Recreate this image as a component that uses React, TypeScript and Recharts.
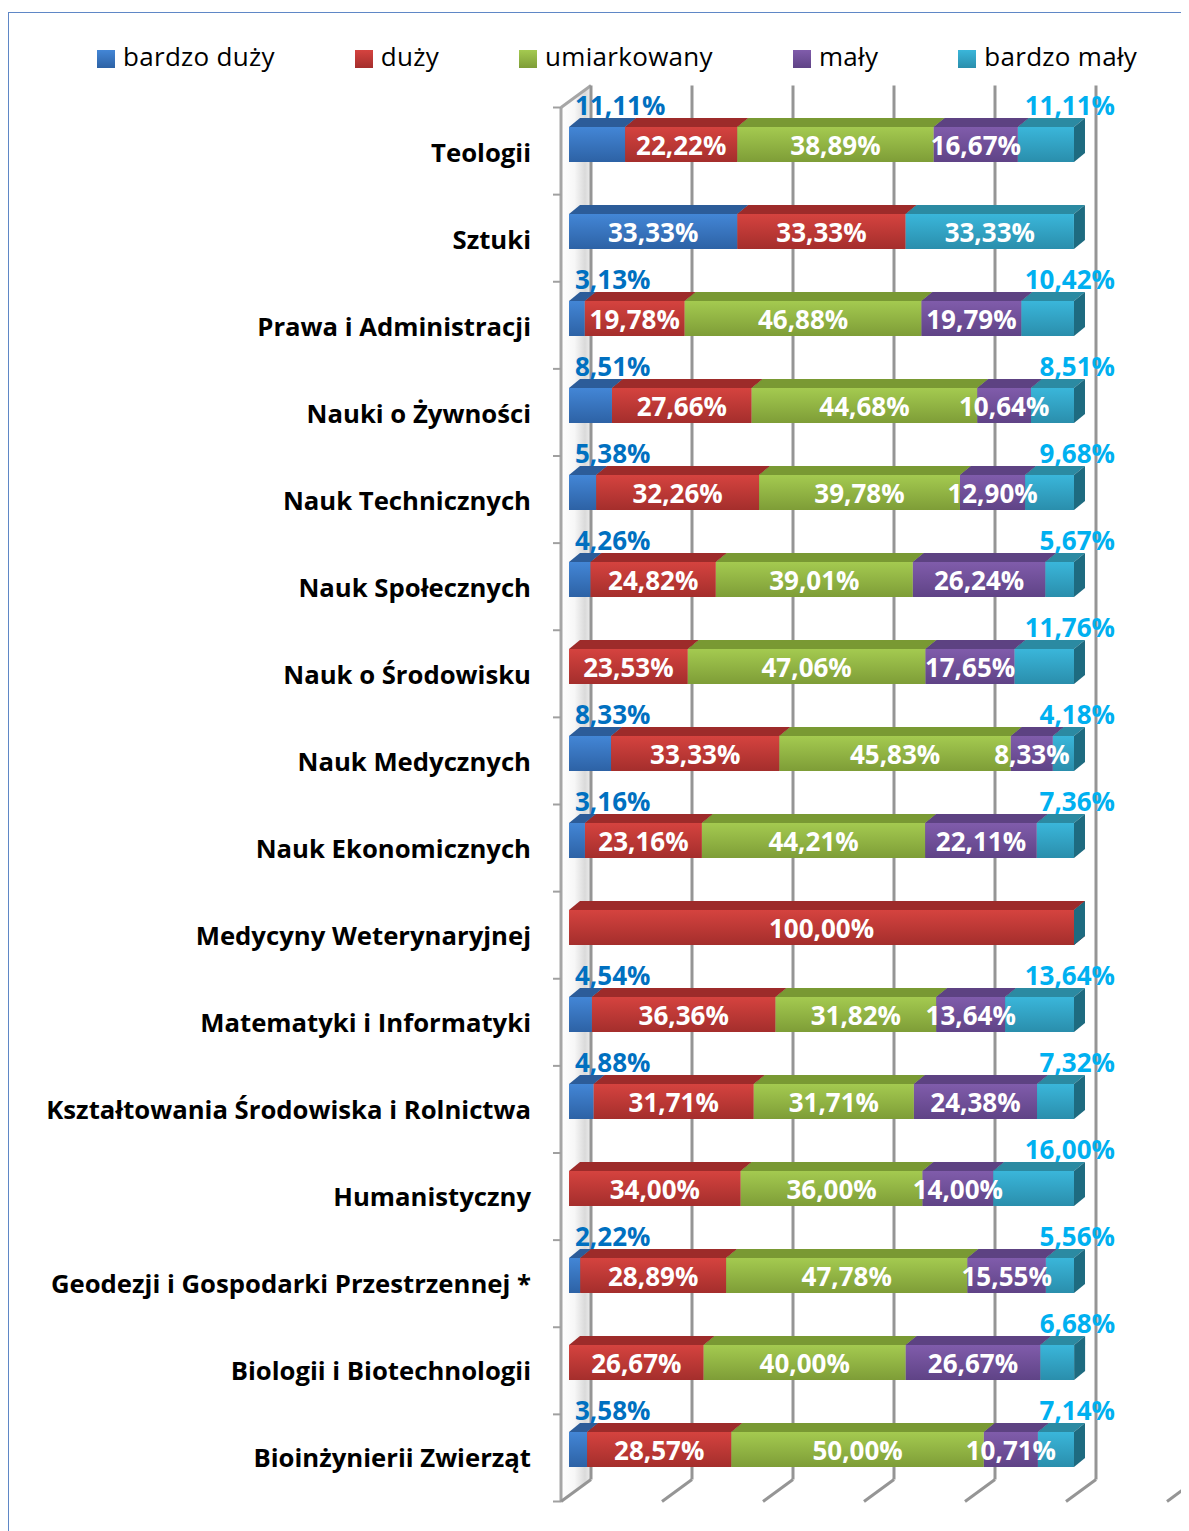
import React from 'react';
import { BarChart, Bar, XAxis, YAxis, CartesianGrid, LabelList, Legend } from 'recharts';

const categories = [
  'Teologii',
  'Sztuki',
  'Prawa i Administracji',
  'Nauki o Żywności',
  'Nauk Technicznych',
  'Nauk Społecznych',
  'Nauk o Środowisku',
  'Nauk Medycznych',
  'Nauk Ekonomicznych',
  'Medycyny Weterynaryjnej',
  'Matematyki i Informatyki',
  'Kształtowania Środowiska i Rolnictwa',
  'Humanistyczny',
  'Geodezji i Gospodarki Przestrzennej *',
  'Biologii i Biotechnologii',
  'Bioinżynierii Zwierząt',
];

const bardzoDuzy = [11.11, 33.33, 3.13, 8.51, 5.38, 4.26, 0, 8.33, 3.16, 0, 4.54, 4.88, 0, 2.22, 0, 3.58];
const duzy = [22.22, 33.33, 19.78, 27.66, 32.26, 24.82, 23.53, 33.33, 23.16, 100, 36.36, 31.71, 34.0, 28.89, 26.67, 28.57];
const umiarkowany = [38.89, 0, 46.88, 44.68, 39.78, 39.01, 47.06, 45.83, 44.21, 0, 31.82, 31.71, 36.0, 47.78, 40.0, 50.0];
const maly = [16.67, 0, 19.79, 10.64, 12.9, 26.24, 17.65, 8.33, 22.11, 0, 13.64, 24.38, 14.0, 15.55, 26.67, 10.71];
const bardzoMaly = [11.11, 33.33, 10.42, 8.51, 9.68, 5.67, 11.76, 4.18, 7.36, 0, 13.64, 7.32, 16.0, 5.56, 6.68, 7.14];

const seriesNames = ['bardzo duży', 'duży', 'umiarkowany', 'mały', 'bardzo mały'];
const xTicks = [0, 20, 40, 60, 80, 100, 120];

const data = categories.map((name, i) => ({
  name,
  s0: bardzoDuzy[i],
  s1: duzy[i],
  s2: umiarkowany[i],
  s3: maly[i],
  s4: bardzoMaly[i],
}));

const STYLES = [
  { f1: '#4386D6', f2: '#2D62A5', top: '#2C5C99', side: '#24507F' },
  { f1: '#D5433F', f2: '#A42E2C', top: '#9D2B2A', side: '#7E2322' },
  { f1: '#A4CA50', f2: '#7E9D37', top: '#799933', side: '#627D2A' },
  { f1: '#805CAB', f2: '#5F4386', top: '#5D4282', side: '#4A3468' },
  { f1: '#3AB6DA', f2: '#2A8EAC', top: '#2B8AA2', side: '#1E6B80' },
];

const FONT = "'Open Sans', sans-serif";
const DX = 11;
const DY = 9;

const fmt = (v: number) => v.toFixed(2).replace('.', ',') + '%';

function makeShape(si: number) {
  return (props: any) => {
    const { x, y, width, height } = props;
    if (x == null || y == null || height == null) return null;
    const w = Math.max(0, width || 0);
    if (w <= 0 && si !== 4) return <g />;
    const c = STYLES[si];
    return (
      <g>
        <defs>
          <linearGradient id={`fg${si}`} x1="0" y1="0" x2="0" y2="1">
            <stop offset="0" stopColor={c.f1} />
            <stop offset="1" stopColor={c.f2} />
          </linearGradient>
        </defs>
        <polygon points={`${x},${y} ${x + DX},${y - DY} ${x + w + DX},${y - DY} ${x + w},${y}`} fill={c.top} />
        <polygon
          points={`${x + w},${y} ${x + w + DX},${y - DY} ${x + w + DX},${y + height - DY} ${x + w},${y + height}`}
          fill={c.side}
        />
        {w > 0 && <rect x={x} y={y} width={w} height={height} fill={`url(#fg${si})`} />}
      </g>
    );
  };
}

function makeLabel(si: number) {
  return (props: any) => {
    const { x, y, width, height, value } = props;
    const v = Number(value);
    if (!v) return null;
    const common = { fontFamily: FONT, fontWeight: 700, fontSize: 26 } as any;
    if (si === 0 && v < 15) {
      return (
        <text x={x + 6} y={y - 21} dy="0.36em" textAnchor="start" fill="#0070C0" {...common}>
          {fmt(v)}
        </text>
      );
    }
    if (si === 4 && v < 20) {
      return (
        <text x={x + width + 41} y={y - 21} dy="0.36em" textAnchor="end" fill="#00B0F0" {...common}>
          {fmt(v)}
        </text>
      );
    }
    return (
      <text x={x + width / 2} y={y + height / 2 + 1} dy="0.36em" textAnchor="middle" fill="#FFFFFF" {...common}>
        {fmt(v)}
      </text>
    );
  };
}

const gridVertical = (props: any) => {
  const { x1, y1, y2, index } = props;
  const x = x1;
  const bx = x + 22;
  const fx = x - 8;
  const byT = y1 - 15.5;
  const byB = y2 - 13.5;
  const fyT = y1 + 6.5;
  const fyB = y2 + 8.5;
  const stroke = '#959595';
  const ticks = [];
  if (index === 0) {
    for (let k = 0; k <= categories.length; k++) {
      const ty = fyT + (k * (fyB - fyT)) / categories.length;
      ticks.push(<line key={k} x1={fx - 8} y1={ty} x2={fx} y2={ty} stroke="#a0a0a0" strokeWidth={2} />);
    }
  }
  return (
    <g key={`gv${index}`}>
      {index === 0 && (
        <g>
          <defs>
            <linearGradient id="wallGrad" x1="0" y1="0" x2="1" y2="0">
              <stop offset="0" stopColor="#ffffff" />
              <stop offset="0.45" stopColor="#f7f7f7" />
              <stop offset="0.8" stopColor="#dadada" />
              <stop offset="1" stopColor="#eeeeee" />
            </linearGradient>
          </defs>
          <polygon points={`${fx},${fyT} ${bx},${byT} ${bx},${byB} ${fx},${fyB}`} fill="url(#wallGrad)" />
          <line x1={fx} y1={fyT} x2={fx} y2={fyB} stroke="#a6a6a6" strokeWidth={3} />
          <line x1={fx} y1={fyT} x2={bx} y2={byT} stroke="#a6a6a6" strokeWidth={3} />
          {ticks}
        </g>
      )}
      <line x1={bx} y1={byT} x2={bx} y2={byB} stroke={stroke} strokeWidth={3} />
      <line x1={bx} y1={byB} x2={fx} y2={fyB} stroke={stroke} strokeWidth={3} />
    </g>
  );
};

const renderLegend = () => (
  <div
    style={{
      display: 'flex',
      alignItems: 'center',
      paddingLeft: 89,
      fontFamily: FONT,
      fontSize: 26,
      letterSpacing: '0.3px',
      lineHeight: '30px',
      color: '#000',
      whiteSpace: 'nowrap',
    }}
  >
    {seriesNames.map((n, i) => (
      <div key={n} style={{ display: 'flex', alignItems: 'center', marginRight: 80 }}>
        <span
          style={{
            display: 'inline-block',
            width: 18,
            height: 18,
            background: `linear-gradient(${STYLES[i].f1}, ${STYLES[i].f2})`,
            marginRight: 8,
            transform: 'translateY(3px)',
          }}
        />
        <span>{n}</span>
      </div>
    ))}
  </div>
);

const CategoryTick = (props: any) => {
  const { x, y, payload } = props;
  return (
    <text x={x} y={y + 8} dy="0.36em" textAnchor="end" fill="#000" fontFamily={FONT} fontWeight={700} fontSize={25.7}>
      {payload.value}
    </text>
  );
};

export default function App() {
  const W = 1181;
  const H = 1523;
  return (
    <div style={{ position: 'relative', width: W, height: H, overflow: 'hidden', background: '#fff' }}>
      <div
        style={{
          position: 'absolute',
          left: 0,
          top: 4,
          width: 2000,
          height: 2000,
          border: '1.5px solid #5F87C6',
          boxSizing: 'border-box',
        }}
      />
      <div style={{ position: 'absolute', left: 0, top: 0 }}>
        <BarChart
          width={W}
          height={H}
          data={data}
          layout="vertical"
          margin={{ top: 93, right: 14, bottom: 38, left: 0 }}
          barSize={35}
        >
          <CartesianGrid horizontal={false} vertical={gridVertical} />
          <XAxis type="number" domain={[0, 120]} ticks={xTicks} hide allowDataOverflow />
          <YAxis
            type="category"
            dataKey="name"
            width={561}
            axisLine={false}
            tickLine={false}
            tickSize={0}
            tickMargin={38}
            interval={0}
            tick={<CategoryTick />}
          />
          <Legend
            layout="horizontal"
            verticalAlign="middle"
            align="center"
            wrapperStyle={{ top: 33, left: 0, width: W, height: 30 }}
            content={renderLegend}
          />
          {[0, 1, 2, 3, 4].map((si) => (
            <Bar
              key={si}
              dataKey={`s${si}`}
              name={seriesNames[si]}
              stackId="a"
              isAnimationActive={false}
              shape={makeShape(si)}
            >
              <LabelList dataKey={`s${si}`} content={makeLabel(si)} />
            </Bar>
          ))}
        </BarChart>
      </div>
    </div>
  );
}
